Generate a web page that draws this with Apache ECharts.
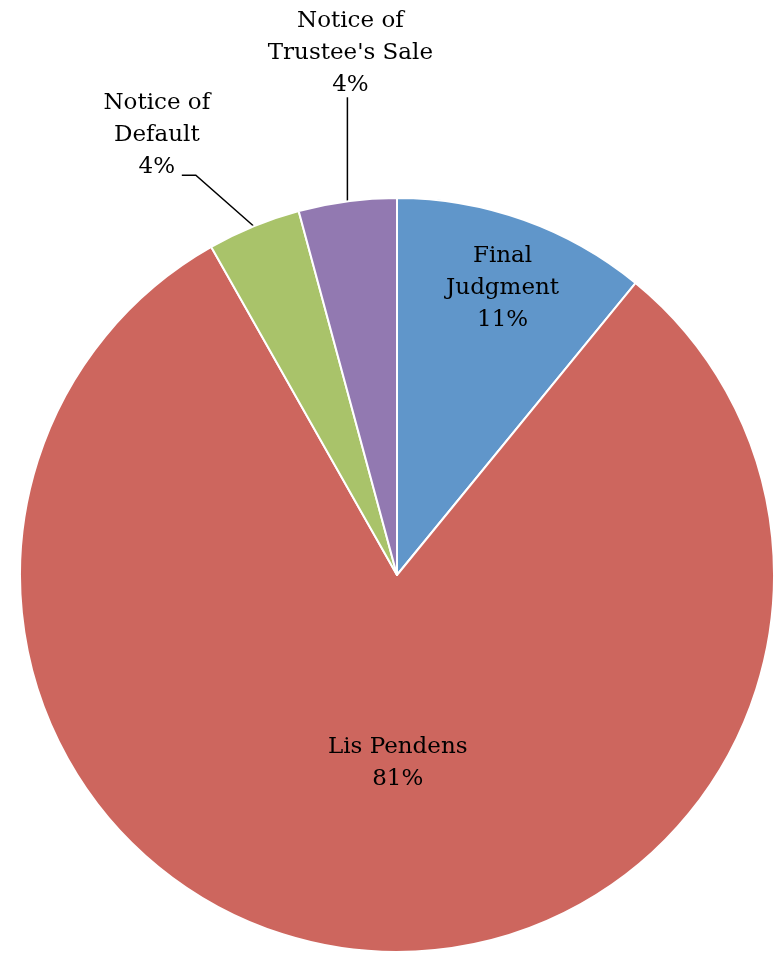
<!DOCTYPE html>
<html>
<head>
<meta charset="utf-8">
<script src="https://cdn.jsdelivr.net/npm/echarts@6/dist/echarts.min.js"></script>
<style>
html,body{margin:0;padding:0;background:#fff;}
#chart{width:778px;height:957px;}
</style>
</head>
<body>
<div id="chart"></div>
<script>
// Data
var categories = ['Final Judgment', 'Lis Pendens', 'Notice of Default', "Notice of Trustee's Sale"];
var labelTexts = ['Final\nJudgment', 'Lis Pendens', 'Notice of\nDefault', "Notice of\nTrustee's Sale"];
var values = [10.9, 80.9, 4.0, 4.2];
var colors = ['#6096CA', '#CD665E', '#A9C36A', '#9279B1'];

var chart = echarts.init(document.getElementById('chart'), null, {renderer: 'canvas'});

var FONT = 'DejaVu Serif';
var FS = 23;
var CX = 397, CY = 575, R = 377;

function fmt(p) {
  return labelTexts[p.dataIndex] + '\n' + Math.round(p.percent) + '%';
}

var mainData = categories.map(function (c, i) {
  var d = { name: c, value: values[i], itemStyle: { color: colors[i] } };
  if (i === 0) d.label = { show: false };
  if (i === 1) d.label = { show: true, position: 'inside' };
  if (i >= 2) {
    d.label = { show: true, position: 'outside' };
    d.labelLine = { show: true, length: 20, length2: 10 };
  }
  return d;
});

var overlayData = categories.map(function (c, i) {
  return { name: c, value: values[i], label: { show: i === 0 } };
});

chart.setOption({
  animation: false,
  series: [
    {
      type: 'pie',
      center: [CX, CY],
      radius: [0, R],
      startAngle: 90,
      clockwise: true,
      avoidLabelOverlap: false,
      data: mainData,
      itemStyle: { borderColor: '#ffffff', borderWidth: 2 },
      label: {
        formatter: fmt,
        fontFamily: FONT,
        fontSize: FS,
        lineHeight: 32,
        color: '#000',
        align: 'center'
      },
      labelLine: { lineStyle: { color: '#000', width: 1.5 }, smooth: false },
      emphasis: { disabled: true },
      labelLayout: function (p) {
        if (p.dataIndex === 1) return { dx: 17, dy: -3 };
        var pts = p.labelLinePoints;
        if (!pts) return {};
        var p0 = pts[0];
        if (p.dataIndex === 3) {
          return {
            x: p0[0] + 3,
            y: p0[1] - 100,
            align: 'center',
            verticalAlign: 'bottom',
            labelLinePoints: [[p0[0], p0[1]], [p0[0], p0[1] - 104]]
          };
        }
        if (p.dataIndex === 2) {
          var p1 = [p0[0] - 58, p0[1] - 51];
          var p2 = [p1[0] - 14, p1[1]];
          return {
            x: p2[0] - 25,
            y: p2[1] + 8,
            align: 'center',
            verticalAlign: 'bottom',
            labelLinePoints: [p0, p1, p2]
          };
        }
        return {};
      }
    },
    {
      type: 'pie',
      center: [CX, CY],
      radius: [234, R],
      startAngle: 90,
      clockwise: true,
      silent: true,
      avoidLabelOverlap: false,
      data: overlayData,
      itemStyle: { color: 'rgba(0,0,0,0)', borderWidth: 0 },
      label: {
        position: 'inside',
        formatter: fmt,
        fontFamily: FONT,
        fontSize: FS,
        lineHeight: 32,
        color: '#000',
        align: 'center'
      },
      labelLine: { show: false },
      emphasis: { disabled: true },
      labelLayout: function () { return { dx: 2, dy: 4 }; }
    }
  ]
});
</script>
</body>
</html>
